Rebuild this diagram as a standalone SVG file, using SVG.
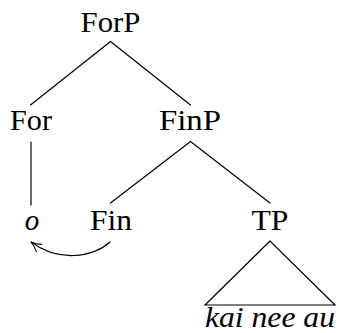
<svg xmlns="http://www.w3.org/2000/svg" width="339" height="333" viewBox="0 0 339 333">
  <style>
    .edge { stroke: #000; stroke-width: 1.2; fill: none; stroke-linecap: round; }
  </style>
  <defs>
    <!-- open "to"-style arrow tip -->
    <marker id="tip" viewBox="0 0 12 12" refX="11" refY="6" markerWidth="12" markerHeight="12" markerUnits="userSpaceOnUse" orient="auto">
      <path d="M1,1.5 Q6,5 11,6 Q6,7 1,10.5" fill="none" stroke="#000" stroke-width="1.1" stroke-linecap="round"/>
    </marker>
  </defs>

  <!-- tree branches and the Fin-to-o movement arrow -->
  <g id="connectors">
    <line class="edge" x1="110.5" y1="41.5" x2="30.5" y2="105"/>
    <line class="edge" x1="110.5" y1="41.5" x2="190.5" y2="105"/>
    <line class="edge" x1="31" y1="142" x2="31" y2="205"/>
    <line class="edge" x1="190.5" y1="141.5" x2="110.5" y2="203"/>
    <line class="edge" x1="190.5" y1="141.5" x2="270" y2="203"/>
    <path class="edge" d="M110,242 C92,258 58,262 31,242" marker-end="url(#tip)"/>
  </g>

  <g fill="#000" text-anchor="middle" font-family="Liberation Serif, serif" font-size="29">
    <g id="ForP"><text x="110.5" y="32" textLength="60" lengthAdjust="spacingAndGlyphs">ForP</text></g>
    <g id="For"><text x="31" y="130" textLength="42" lengthAdjust="spacingAndGlyphs">For</text></g>
    <g id="FinP"><text x="190" y="130" textLength="62" lengthAdjust="spacingAndGlyphs">FinP</text></g>
    <g id="o"><text x="32" y="230" font-style="italic">o</text></g>
    <g id="Fin"><text x="111" y="230" textLength="42" lengthAdjust="spacingAndGlyphs">Fin</text></g>
    <g id="TP"><text x="270" y="230" textLength="37" lengthAdjust="spacingAndGlyphs">TP</text></g>
    <g id="TP-triangle">
      <path class="edge" d="M270,241 L205,305 L335,305 Z" stroke-linejoin="miter"/>
      <text x="270" y="327" font-style="italic" textLength="130" lengthAdjust="spacingAndGlyphs">kai nee au</text>
    </g>
  </g>
</svg>
